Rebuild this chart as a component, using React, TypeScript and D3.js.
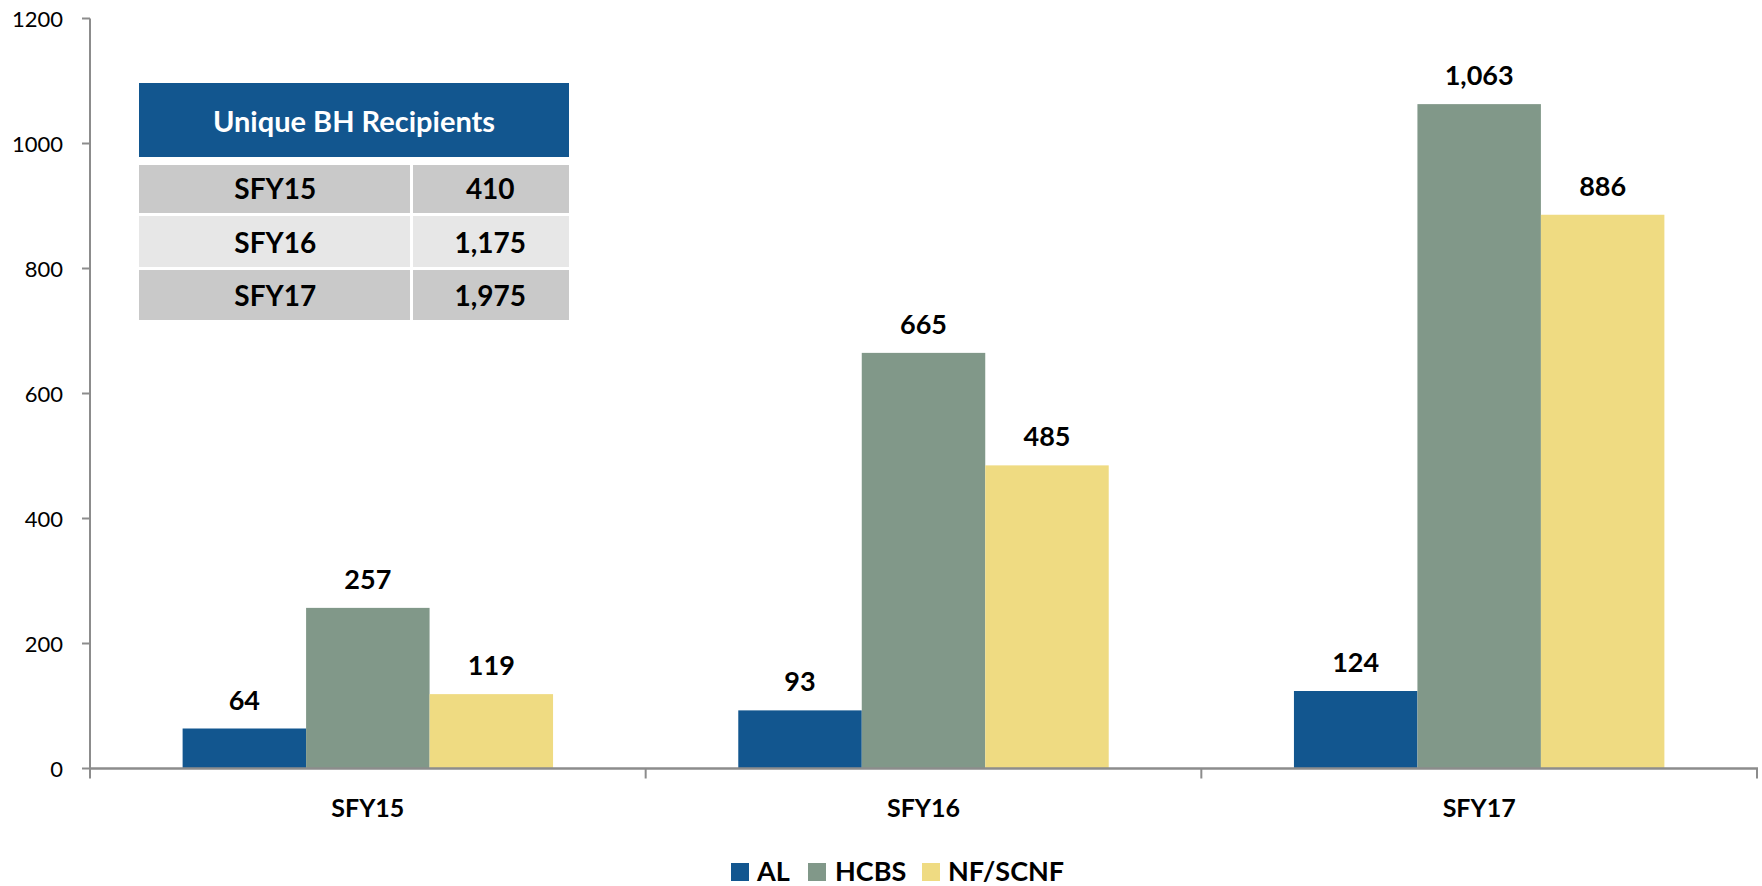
import React from "react";
import * as d3 from "d3";

// Fiscal years on the x axis
const categories = ["SFY15", "SFY16", "SFY17"];
// Series (setting of care)
const seriesNames = ["AL", "HCBS", "NF/SCNF"];
const seriesColors = ["#12568f", "#819889", "#efdb82"];
// Recipients per series, one value per fiscal year
const alValues = [64, 93, 124];
const hcbsValues = [257, 665, 1063];
const nfValues = [119, 485, 886];
// Y axis ticks
const yTicks = [0, 200, 400, 600, 800, 1000, 1200];
// Summary table rows
const tableTitle = "Unique BH Recipients";
const tableYears = ["SFY15", "SFY16", "SFY17"];
const tableTotals = ["410", "1,175", "1,975"];

const W = 1762;
const H = 886;
const FONT = "Lato, 'Open Sans', sans-serif";

export default function App() {
  const seriesValues = [alValues, hcbsValues, nfValues];

  const x0 = d3.scaleBand<string>().domain(categories).range([90, 1757]).padding(0);
  const bw = x0.bandwidth();
  const x1 = d3
    .scaleBand<string>()
    .domain(seriesNames)
    .range([bw / 6, (bw * 5) / 6])
    .padding(0);
  const y = d3.scaleLinear().domain([0, 1200]).range([768.5, 18.5]);

  const fmt = d3.format(",");
  const axisColor = "#8c8c8c";

  // table geometry
  const tLeft = 139;
  const tRight = 569;
  const tSplit = 411.5;
  const gap = 3;
  const headerTop = 83;
  const headerBottom = 157;
  const rowTops = [165, 216, 270];
  const rowBottoms = [213, 267, 320];
  const rowFills = ["#c9c9c9", "#e7e7e7", "#c9c9c9"];

  // legend
  const legendItems = [
    { x: 731, textX: 757 },
    { x: 808, textX: 835 },
    { x: 922, textX: 948 },
  ];

  return (
    <svg
      width={W}
      height={H}
      style={{ position: "absolute", left: 0, top: 0, background: "#fff" }}
      fontFamily={FONT}
    >
      {/* bars */}
      {categories.map((cat, ci) =>
        seriesNames.map((s, si) => {
          const v = seriesValues[si][ci];
          const bx = (x0(cat) ?? 0) + (x1(s) ?? 0);
          const by = y(v);
          return (
            <g key={cat + s}>
              <rect
                x={bx}
                y={by}
                width={x1.bandwidth()}
                height={y(0) - by}
                fill={seriesColors[si]}
              />
              <text
                x={bx + x1.bandwidth() / 2}
                y={by - 19}
                textAnchor="middle"
                fontWeight={700}
                fontSize={27}
                fill="#000"
              >
                {fmt(v)}
              </text>
            </g>
          );
        })
      )}

      {/* y axis */}
      <line x1={90} x2={90} y1={y(1200)} y2={y(0)} stroke={axisColor} strokeWidth={2} />
      {yTicks.map((t) => (
        <g key={t}>
          <line x1={82} x2={90} y1={y(t)} y2={y(t)} stroke={axisColor} strokeWidth={2} />
          <text x={63} y={y(t) + 8} textAnchor="end" fontSize={22} fill="#000">
            {t}
          </text>
        </g>
      ))}

      {/* x axis */}
      <line x1={89} x2={1758} y1={y(0)} y2={y(0)} stroke={axisColor} strokeWidth={2.5} />
      {[...categories.map((c) => x0(c) ?? 0), 1757].map((tx, i) => (
        <line key={i} x1={tx} x2={tx} y1={y(0)} y2={y(0) + 10} stroke={axisColor} strokeWidth={2} />
      ))}
      {categories.map((c) => (
        <text
          key={c}
          x={(x0(c) ?? 0) + bw / 2}
          y={817}
          textAnchor="middle"
          fontWeight={700}
          fontSize={25}
          fill="#000"
        >
          {c}
        </text>
      ))}

      {/* summary table */}
      <rect x={tLeft} y={headerTop} width={tRight - tLeft} height={headerBottom - headerTop} fill="#12568f" />
      <text
        x={(tLeft + tRight) / 2}
        y={132}
        textAnchor="middle"
        fontWeight={700}
        fontSize={29}
        fill="#fff"
      >
        {tableTitle}
      </text>
      {tableYears.map((yr, i) => (
        <g key={yr}>
          <rect
            x={tLeft}
            y={rowTops[i]}
            width={tSplit - gap / 2 - tLeft}
            height={rowBottoms[i] - rowTops[i]}
            fill={rowFills[i]}
          />
          <rect
            x={tSplit + gap / 2}
            y={rowTops[i]}
            width={tRight - tSplit - gap / 2}
            height={rowBottoms[i] - rowTops[i]}
            fill={rowFills[i]}
          />
          <text
            x={(tLeft + tSplit) / 2}
            y={rowBottoms[i] - 14}
            textAnchor="middle"
            fontWeight={700}
            fontSize={28}
            fill="#000"
          >
            {yr}
          </text>
          <text
            x={(tSplit + tRight) / 2}
            y={rowBottoms[i] - 14}
            textAnchor="middle"
            fontWeight={700}
            fontSize={28}
            fill="#000"
          >
            {tableTotals[i]}
          </text>
        </g>
      ))}

      {/* legend */}
      {seriesNames.map((s, i) => (
        <g key={s}>
          <rect x={legendItems[i].x} y={863} width={18} height={18} fill={seriesColors[i]} />
          <text x={legendItems[i].textX} y={881} fontWeight={700} fontSize={27} fill="#000">
            {s}
          </text>
        </g>
      ))}
    </svg>
  );
}
